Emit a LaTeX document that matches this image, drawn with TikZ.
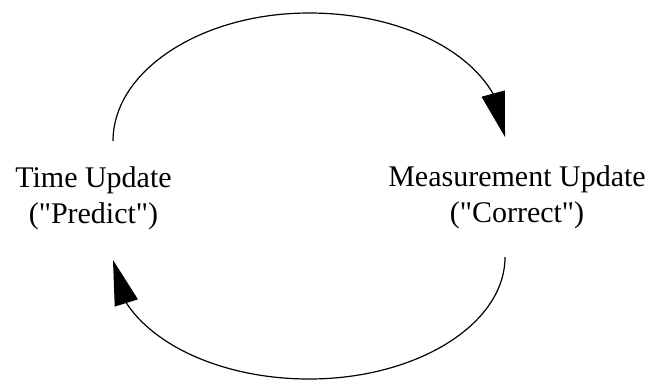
\documentclass[tikz,border=0pt]{standalone}
\usepackage{fontspec}
\setmainfont{Liberation Serif}[Ligatures=TeXOff]
\usetikzlibrary{arrows.meta,bending}
\begin{document}
\begin{tikzpicture}[x=1pt,y=-1pt,
  lbl/.style={align=center,inner sep=0pt,font=\fontsize{30}{36}\selectfont},
  loop/.style={line width=1.2pt,-{Triangle[length=45pt,width=24pt,flex]}}]
\useasboundingbox (0,0) rectangle (652,381);
\node[lbl] (tu) at (93.5,198) {Time Update\\("Predict")};
\node[lbl] (mu) at (517,197) {Measurement Update\\("Correct")};
\coordinate (a) at (113,141);
\coordinate (b) at (505,137);
\coordinate (c) at (505,257);
\coordinate (d) at (113,260);
\draw[loop] (a) .. controls (113,71) and (201,13) .. (309,13)
  .. controls (417,13) and (505,67) .. (b);
\draw[loop] (c) .. controls (505,324) and (417,379) .. (309,379)
  .. controls (201,379) and (113,325) .. (d);
\end{tikzpicture}
\end{document}
